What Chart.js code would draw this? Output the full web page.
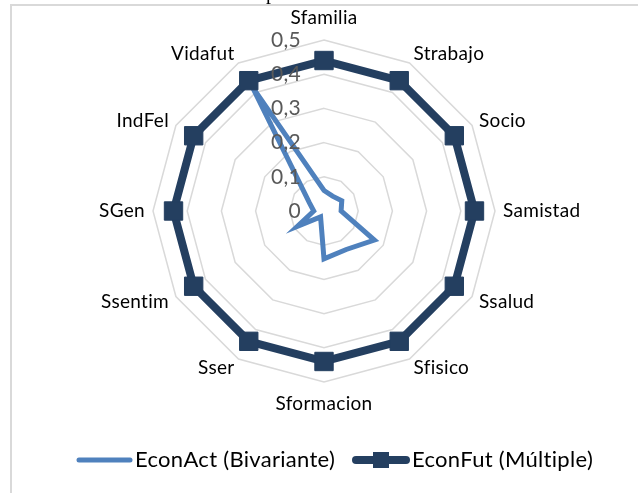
<!DOCTYPE html>
<html>
<head>
<meta charset="utf-8">
<script src="https://cdn.jsdelivr.net/npm/chart.js@4.4.1/dist/chart.umd.min.js"></script>
<style>
  html, body { margin: 0; padding: 0; background: #ffffff; }
  #wrap { width: 638px; height: 493px; position: relative; }
</style>
</head>
<body>
<div id="wrap"><canvas id="radarChart"></canvas></div>
<script>
const categories = ['Sfamilia', 'Strabajo', 'Socio', 'Samistad', 'Ssalud', 'Sfisico',
  'Sformacion', 'Sser', 'Ssentim', 'SGen', 'IndFel', 'Vidafut'];
const econAct = [0.06, 0.05, 0.06, 0.05, 0.17, 0.13, 0.14, 0.02, 0.09, 0.03, 0.05, 0.42];
const econFut = [0.44, 0.44, 0.44, 0.44, 0.44, 0.44, 0.44, 0.44, 0.44, 0.44, 0.44, 0.44];
const tickValues = [0, 0.1, 0.2, 0.3, 0.4, 0.5];
const tickLabels = ['0', '0,1', '0,2', '0,3', '0,4', '0,5'];
const seriesNames = ['EconAct (Bivariante)', 'EconFut (Múltiple)'];

const actColor = '#4F81BD';
const futColor = '#243F60';
const gridColor = '#D9D9D9';
const labelFont = '19px Lato, "Open Sans", sans-serif';
const legendFont = '22px Lato, "Open Sans", sans-serif';

// frame of the chart area, title fragment, point labels, tick labels and legend
const extrasPlugin = {
  id: 'extras',
  beforeDraw(chart) {
    const ctx = chart.ctx;
    ctx.save();
    ctx.strokeStyle = gridColor;
    ctx.lineWidth = 2;
    ctx.beginPath();
    ctx.moveTo(11, 493);
    ctx.lineTo(11, 5);
    ctx.lineTo(638, 5);
    ctx.stroke();
    // cut-off title above the frame
    ctx.fillStyle = '#000';
    ctx.font = '20px "Liberation Serif", serif';
    ctx.textAlign = 'left';
    ctx.textBaseline = 'alphabetic';
    ctx.fillText('p', 266, -1);
    ctx.restore();
  },
  afterDraw(chart) {
    const ctx = chart.ctx;
    const scale = chart.scales.r;
    const R = scale.drawingArea;
    ctx.save();
    ctx.letterSpacing = '0.3px'; // keeps "ti"/"fi" apart

    // category labels
    ctx.font = labelFont;
    ctx.fillStyle = '#000';
    ctx.textBaseline = 'middle';
    categories.forEach((name, i) => {
      const a = scale.getIndexAngle(i);
      const s = Math.sin(a), c = Math.cos(a);
      const p = scale.getPointPosition(i, R);
      let x = p.x, y = p.y;
      if (Math.abs(s) < 0.01) {
        ctx.textAlign = 'center';
        y = p.y - (c > 0 ? 22 : -22);
      } else {
        ctx.textAlign = s > 0 ? 'left' : 'right';
        x = p.x + s * 8;
        y = p.y - c * 10;
      }
      ctx.fillText(name, x, y);
    });

    // value ticks, left of the vertical axis
    ctx.font = '21px Lato, "Open Sans", sans-serif';
    ctx.fillStyle = '#595959';
    ctx.textAlign = 'right';
    ctx.textBaseline = 'middle';
    tickValues.forEach((v, i) => {
      const d = scale.getDistanceFromCenterForValue(v);
      ctx.fillText(tickLabels[i], scale.xCenter - 23, scale.yCenter - d);
    });

    // legend
    const ly = 460;
    ctx.font = legendFont;
    ctx.fillStyle = '#000';
    ctx.textAlign = 'left';
    ctx.lineCap = 'round';
    ctx.strokeStyle = actColor;
    ctx.lineWidth = 5;
    ctx.beginPath();
    ctx.moveTo(79, ly);
    ctx.lineTo(130, ly);
    ctx.stroke();
    ctx.fillText(seriesNames[0], 135, ly);

    ctx.strokeStyle = futColor;
    ctx.lineWidth = 8;
    ctx.beginPath();
    ctx.moveTo(356, ly);
    ctx.lineTo(406, ly);
    ctx.stroke();
    ctx.fillStyle = futColor;
    ctx.fillRect(373, ly - 8, 16, 16);
    ctx.fillStyle = '#000';
    ctx.fillText(seriesNames[1], 412, ly);
    ctx.restore();
  }
};

const ctx = document.getElementById('radarChart').getContext('2d');
new Chart(ctx, {
  type: 'radar',
  data: {
    labels: categories,
    datasets: [
      {
        label: seriesNames[0],
        data: econAct,
        borderColor: actColor,
        backgroundColor: actColor,
        borderWidth: 5,
        pointRadius: 0,
        pointHoverRadius: 0,
        fill: false,
        tension: 0,
        order: 2
      },
      {
        label: seriesNames[1],
        data: econFut,
        borderColor: futColor,
        backgroundColor: futColor,
        borderWidth: 8,
        pointStyle: 'rect',
        pointRadius: 13,
        pointBorderWidth: 1,
        pointBackgroundColor: futColor,
        pointBorderColor: futColor,
        fill: false,
        tension: 0,
        order: 1
      }
    ]
  },
  options: {
    responsive: true,
    maintainAspectRatio: false,
    animation: false,
    layout: { padding: { left: 153, right: 143, top: 40, bottom: 111 } },
    plugins: {
      legend: { display: false },
      tooltip: { enabled: false },
      title: { display: false }
    },
    scales: {
      r: {
        min: 0,
        max: 0.5,
        ticks: { display: false, stepSize: 0.1 },
        pointLabels: { display: false },
        angleLines: { display: false },
        grid: { color: gridColor, lineWidth: 1.5, circular: false }
      }
    }
  },
  plugins: [extrasPlugin]
});
</script>
</body>
</html>
